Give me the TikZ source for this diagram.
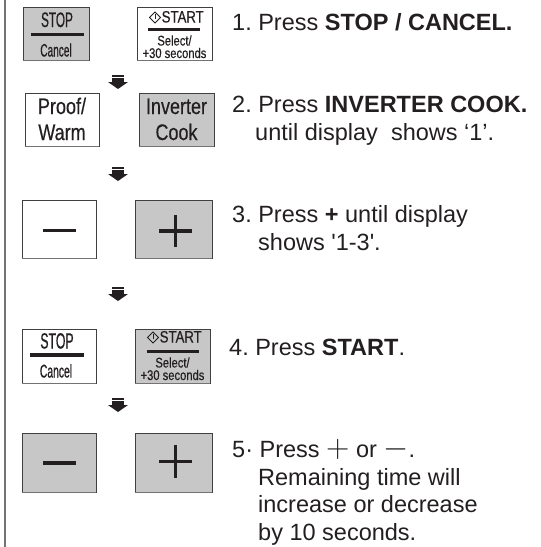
\documentclass[tikz,border=0pt]{standalone}
\usepackage{fontspec}
\setmainfont{Liberation Sans}
\newfontfamily\keynarrow[FakeStretch=0.56, FakeBold=0.6]{Liberation Sans}
\newfontfamily\keyfont[FakeStretch=0.8, FakeBold=0.4]{Liberation Sans}
\definecolor{keygray}{RGB}{199,199,200}
\definecolor{inkgray}{RGB}{35,31,32}
\tikzset{
  key/.style={draw=black!75, line width=0.8pt, inner sep=0, fill=white},
  keyon/.style={key, fill=keygray},
  keytxt/.style={anchor=base, inner sep=0, text=inkgray},
  howto/.style={anchor=base west, inner sep=0, text=inkgray, font=\fontsize{23.5}{27}\selectfont},
  stepdown/.pic={
    \fill[inkgray] (-6,0) rectangle (6,1.7);
    \fill[inkgray] (-6,2.7) rectangle (6,7);
    \fill[inkgray] (-10,7) -- (10,7) -- (0,14) -- cycle;
  }
}
\frenchspacing
\begin{document}
\begin{tikzpicture}[x=1pt, y=-1pt]
  \useasboundingbox (0,0) rectangle (541,547);

  % Margin line
  \draw[line width=2pt, black!55] (4.5,0) -- (4.5,547);

  % Row 1: STOP and START
  \node[keyon, minimum width=66pt, minimum height=53pt] (stopA) at (56,33.5) {};
  \node[keytxt, font=\keynarrow\fontsize{21}{21}\selectfont] (stopAtop) at (57,27) {STOP};
  \fill[inkgray] (31,32.5) rectangle (84,35.5);
  \node[keytxt, font=\keynarrow\fontsize{18}{18}\selectfont] (stopAbot) at (56,56.5) {Cancel};

  \node[key, minimum width=75pt, minimum height=53pt] (startA) at (174.5,33.5) {};
  \draw[inkgray, line width=0.9pt] (155,12) -- (160.5,17.5) -- (155,23) -- (149.5,17.5) -- cycle;
  \draw[inkgray, line width=0.9pt] (155,14) -- (155,18.5);
  \node[keytxt, anchor=base west, font=\keyfont\fontsize{16.5}{16.5}\selectfont] (startAtop) at (161.5,22.5) {START};
  \fill[inkgray] (148,27.5) rectangle (200,30.5);
  \node[keytxt, font=\keyfont\fontsize{14}{14}\selectfont] (startAmid) at (174.5,45.5) {Select/};
  \node[keytxt, font=\keyfont\fontsize{14}{14}\selectfont] (startAbot) at (174.5,58) {+30 seconds};

  % Row 2: Proof/Warm and Inverter Cook
  \node[key, minimum width=74pt, minimum height=53pt] (proof) at (62,119.5) {};
  \node[keytxt, font=\keyfont\fontsize{22.5}{22.5}\selectfont] (prooftop) at (62,114) {Proof/};
  \node[keytxt, font=\keyfont\fontsize{22.5}{22.5}\selectfont] (proofbot) at (62,140) {Warm};

  \node[keyon, minimum width=75pt, minimum height=53pt] (inv) at (176.5,119.5) {};
  \node[keytxt, font=\keyfont\fontsize{22.5}{22.5}\selectfont] (invtop) at (176.5,114) {Inverter};
  \node[keytxt, font=\keyfont\fontsize{22.5}{22.5}\selectfont] (invbot) at (176.5,140) {Cook};

  % Row 3: minus and plus
  \node[key, minimum width=74pt, minimum height=58pt] (minusA) at (59,229) {};
  \draw[inkgray, line width=3.7pt] (43,230.5) -- (76,230.5);
  \node[keyon, minimum width=77pt, minimum height=58pt] (plusA) at (173.5,229) {};
  \draw[inkgray, line width=3.5pt] (159,231) -- (192,231) (175.5,215) -- (175.5,247);

  % Row 4: STOP and START
  \node[key, minimum width=74pt, minimum height=54pt] (stopB) at (59,356) {};
  \node[keytxt, font=\keynarrow\fontsize{22}{22}\selectfont] (stopBtop) at (57,348.5) {STOP};
  \fill[inkgray] (30,353) rectangle (84,356.5);
  \node[keytxt, font=\keynarrow\fontsize{18.5}{18.5}\selectfont] (stopBbot) at (56,377.5) {Cancel};

  \node[keyon, minimum width=75pt, minimum height=54pt] (startB) at (172.5,356) {};
  \draw[inkgray, line width=0.9pt] (153,332) -- (158.5,337.5) -- (153,343) -- (147.5,337.5) -- cycle;
  \draw[inkgray, line width=0.9pt] (153,334) -- (153,338.5);
  \node[keytxt, anchor=base west, font=\keyfont\fontsize{16.5}{16.5}\selectfont] (startBtop) at (159.5,342.5) {START};
  \fill[inkgray] (147,349.5) rectangle (199,352.5);
  \node[keytxt, font=\keyfont\fontsize{14}{14}\selectfont] (startBmid) at (172.5,367.5) {Select/};
  \node[keytxt, font=\keyfont\fontsize{14}{14}\selectfont] (startBbot) at (172.5,380) {+30 seconds};

  % Row 5: minus and plus
  \node[keyon, minimum width=74pt, minimum height=59pt] (minusB) at (59,462.5) {};
  \draw[inkgray, line width=3.7pt] (43,462.7) -- (76,462.7);
  \node[keyon, minimum width=77pt, minimum height=59pt] (plusB) at (173.5,462.5) {};
  \draw[inkgray, line width=3.5pt] (159,461.5) -- (192,461.5) (175.5,445) -- (175.5,478);

  % Key shadows
  \foreach \k in {stopA,startA,proof,inv,minusA,plusA,stopB,startB,minusB,plusB}
    \draw[line width=1.4pt, black!55] (\k.south west) -- (\k.south east);

  % Step arrows
  \foreach \y in {75,167,287,398}
    \pic at (118,\y) {stepdown};

  % Instructions
  \node[howto] (t1) at (232,30) {1. Press \textbf{STOP / CANCEL.}};
  \node[howto] (t2a) at (232,112) {2. Press \textbf{INVERTER COOK.}};
  \node[howto] (t2b) at (255,140) {until display\ \ shows ‘1’.};
  \node[howto] (t3a) at (232,222) {3. Press \textbf{+} until display};
  \node[howto] (t3b) at (258,250) {shows \textquotesingle 1-3\textquotesingle.};
  \node[howto] (t4) at (229,355) {4. Press \textbf{START}.};
  \node[howto] (t5a) at (232,457) {5· Press \scalebox{1.3}{$+$} or \scalebox{1.3}{$-$}.};
  \node[howto] (t5b) at (258,485) {Remaining time will};
  \node[howto] (t5c) at (258,512) {increase or decrease};
  \node[howto] (t5d) at (258,540) {by 10 seconds.};
\end{tikzpicture}
\end{document}
